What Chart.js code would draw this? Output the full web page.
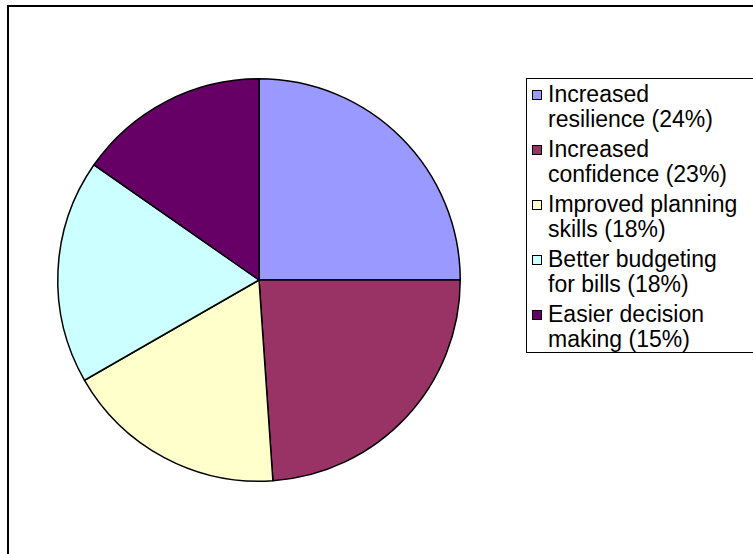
<!DOCTYPE html>
<html>
<head>
<meta charset="utf-8">
<script src="https://cdn.jsdelivr.net/npm/chart.js@4.4.1/dist/chart.umd.min.js"></script>
<style>
  html, body { margin: 0; padding: 0; background: #fff; overflow: hidden; }
  #wrap { position: relative; width: 753px; height: 554px; overflow: hidden; }
  #frame {
    position: absolute; left: 7px; top: 5px; width: 900px; height: 700px;
    border: 2px solid #000; box-sizing: border-box;
  }
  #pie { position: absolute; left: 0; top: 0; }
  #legend {
    position: absolute; left: 526px; top: 78px; width: 400px; height: 275px;
    border: 1px solid #000; box-sizing: border-box; background: #fff;
    font-family: "Liberation Sans", Arial, sans-serif; font-size: 23px; color: #000;
    padding: 3px 0 0 4px;
  }
  .item { display: flex; align-items: flex-start; margin-bottom: 5px; line-height: 25px; }
  .swatch { width: 8px; height: 8px; border: 1px solid #000; margin: 8px 6px 0 1px; flex: none; }
  .txt { width: 230px; white-space: nowrap; }
</style>
</head>
<body>
<div id="wrap">
  <div id="frame"></div>
  <canvas id="pie" width="753" height="554"></canvas>
  <div id="legend"></div>
</div>
<script>
const labels = [
  'Increased resilience (24%)',
  'Increased confidence (23%)',
  'Improved planning skills (18%)',
  'Better budgeting for bills (18%)',
  'Easier decision making (15%)'
];
const legendLines = [
  ['Increased', 'resilience (24%)'],
  ['Increased', 'confidence (23%)'],
  ['Improved planning', 'skills (18%)'],
  ['Better budgeting', 'for bills (18%)'],
  ['Easier decision', 'making (15%)']
];
// shares
const shares = [25.0, 23.9, 17.8, 18.0, 15.3];
const colors = ['#9999FF', '#993366', '#FFFFCC', '#CCFFFF', '#660066'];

const htmlLegend = {
  id: 'htmlLegend',
  afterUpdate(chart) {
    const box = document.getElementById('legend');
    box.innerHTML = '';
    const ds = chart.data.datasets[0];
    chart.data.labels.forEach((lbl, i) => {
      const row = document.createElement('div');
      row.className = 'item';
      const sw = document.createElement('span');
      sw.className = 'swatch';
      sw.style.background = ds.backgroundColor[i];
      const t = document.createElement('span');
      t.className = 'txt';
      t.innerHTML = legendLines[i].join('<br>');
      row.appendChild(sw);
      row.appendChild(t);
      box.appendChild(row);
    });
  }
};

new Chart(document.getElementById('pie'), {
  type: 'pie',
  data: {
    labels: labels,
    datasets: [{
      data: shares,
      backgroundColor: colors,
      borderColor: '#000',
      borderWidth: 1.5
    }]
  },
  options: {
    responsive: false,
    animation: false,
    devicePixelRatio: 1,
    layout: { padding: { left: 57, right: 292, top: 77, bottom: 71 } },
    plugins: {
      legend: { display: false },
      tooltip: { enabled: false }
    }
  },
  plugins: [htmlLegend]
});
</script>
</body>
</html>
